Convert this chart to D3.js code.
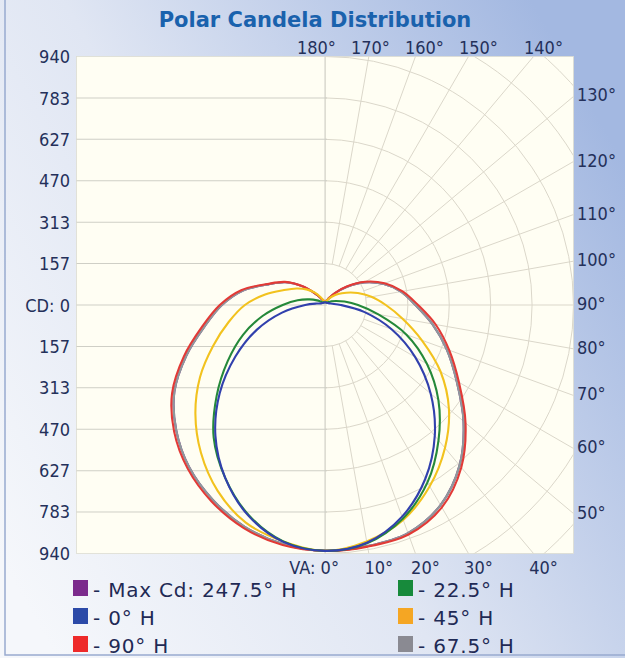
<!DOCTYPE html>
<html>
<head>
<meta charset="utf-8">
<script src="https://cdn.jsdelivr.net/npm/d3@7"></script>
<style>
  body { margin: 0; background: #fff; }
  text { font-family: "DejaVu Sans", Verdana, sans-serif; }
  .axis text { font-family: "DejaVu Sans Condensed", "DejaVu Sans", sans-serif; }
</style>
</head>
<body>
<div id="chart"></div>
<script>
const width = 625;
const height = 658;
const maxCd = 940;

// candela rings / left axis labels
const cdTicks = [157, 313, 470, 627, 783, 940];
// vertical angles (0 = nadir)
const vaAngles = [0, 10, 20, 30, 40, 50, 60, 70, 80, 90, 100, 110, 120, 130, 140, 150, 160, 170, 180];
const bottomAngles = [0, 10, 20, 30, 40];
const rightAngles = [50, 60, 70, 80, 90, 100, 110, 120, 130];
const topAngles = [140, 150, 160, 170, 180];

// candela per vertical angle, right half = plane, left half = opposite plane
const h0Right    = [930, 913, 852, 759, 646, 522, 394, 268, 150, 60, 28, 18, 14, 12, 10, 10, 10, 10, 10];
const h180Left   = [930, 910, 848, 755, 645, 520, 392, 275, 165, 75, 32, 18, 14, 12, 10, 10, 10, 10, 10];
const h225Right  = [930, 915, 860, 775, 668, 560, 445, 328, 205, 125, 75, 45, 28, 18, 14, 12, 11, 10, 10];
const h2025Left  = [930, 908, 845, 755, 655, 535, 425, 330, 240, 160, 105, 62, 35, 20, 14, 12, 11, 10, 10];
const h45Right   = [930, 908, 865, 792, 706, 612, 505, 390, 298, 230, 178, 132, 93, 65, 42, 26, 17, 13, 12];
const h225Left   = [930, 908, 876, 812, 730, 640, 546, 450, 370, 303, 230, 165, 125, 92, 62, 35, 20, 14, 12];
const h675Right  = [930, 926, 918, 874, 792, 684, 575, 490, 412, 342, 292, 234, 171, 106, 58, 29, 18, 14, 12];
const h2475Left  = [930, 918, 892, 850, 800, 735, 658, 558, 462, 390, 315, 228, 172, 108, 55, 28, 18, 14, 12];
const h90Right   = [930, 928, 924, 884, 802, 694, 585, 500, 425, 352, 298, 240, 176, 110, 60, 30, 18, 14, 12];
const h270Left   = [930, 922, 898, 858, 808, 745, 668, 568, 472, 398, 322, 232, 175, 110, 55, 28, 18, 14, 12];

const series = [
    { label: "- Max Cd: 247.5° H", color: "#7a2a8a", swatch: "#7b2a8c", right: h675Right, left: h2475Left, col: 0, row: 0 },
    { label: "- 67.5° H", color: "#8e9a9c", swatch: "#8a8a92", right: h675Right, left: h2475Left, col: 1, row: 2 },
    { label: "- 90° H",   color: "#e23a36", swatch: "#ee2a2a", right: h90Right,  left: h270Left,  col: 0, row: 2 },
    { label: "- 45° H",   color: "#f2c21e", swatch: "#f5a623", right: h45Right,  left: h225Left,  col: 1, row: 1 },
    { label: "- 22.5° H", color: "#25893a", swatch: "#178a3b", right: h225Right, left: h2025Left, col: 1, row: 0 },
    { label: "- 0° H",    color: "#3140ad", swatch: "#2c4aa8", right: h0Right,   left: h180Left,  col: 0, row: 1 }
];

const svg = d3.select("#chart")
    .append("svg")
        .attr("width", width)
        .attr("height", height)
        .attr("viewBox", [0, 0, width, height]);

const defs = svg.append("defs");
const bg = defs.append("linearGradient")
    .attr("id", "bg")
    .attr("x1", 0).attr("y1", 0.85).attr("x2", 1).attr("y2", 0.25);
bg.append("stop").attr("offset", 0).attr("stop-color", "#f5f7fb");
bg.append("stop").attr("offset", 0.45).attr("stop-color", "#e0e6f3");
bg.append("stop").attr("offset", 1).attr("stop-color", "#a3b8e1");

svg.append("rect")
    .attr("width", width).attr("height", height)
    .attr("fill", "url(#bg)");
svg.append("rect")
    .attr("x", 5).attr("y", -2)
    .attr("width", width + 5).attr("height", 657)
    .attr("fill", "none")
    .attr("stroke", "#98aacf")
    .attr("stroke-width", 1.5);

const x = d3.scaleLinear().domain([-maxCd, maxCd]).range([76.5, 573.5]);
const y = d3.scaleLinear().domain([-maxCd, maxCd]).range([553.5, 56.5]);
const r = d3.scaleLinear().domain([0, maxCd]).range([0, 248.5]);
const cx = x(0), cy = y(0);
const plotLeft = x(-maxCd), plotRight = x(maxCd), plotTop = y(maxCd), plotBottom = y(-maxCd);

// plot area
svg.append("rect")
    .attr("x", plotLeft).attr("y", plotTop)
    .attr("width", plotRight - plotLeft).attr("height", plotBottom - plotTop)
    .attr("fill", "#fffef3")
    .attr("stroke", "#dcdcd2")
    .attr("stroke-width", 0.8);

defs.append("clipPath").attr("id", "rightHalf")
    .append("rect")
        .attr("x", cx).attr("y", plotTop)
        .attr("width", plotRight - cx).attr("height", plotBottom - plotTop);

// polar grid on the right half
const polar = svg.append("g")
    .attr("clip-path", "url(#rightHalf)")
    .attr("fill", "none")
    .attr("stroke", "#dbd7ca")
    .attr("stroke-width", 1);

const ringStep = maxCd / 6;
polar.selectAll("circle")
    .data(d3.range(1, 9))
    .enter().append("circle")
        .attr("cx", cx).attr("cy", cy)
        .attr("r", d => r(d * ringStep));

polar.selectAll("line")
    .data(vaAngles)
    .enter().append("line")
        .attr("x1", d => cx + r(ringStep) * Math.sin(d * Math.PI / 180))
        .attr("y1", d => cy + r(ringStep) * Math.cos(d * Math.PI / 180))
        .attr("x2", d => cx + 420 * Math.sin(d * Math.PI / 180))
        .attr("y2", d => cy + 420 * Math.cos(d * Math.PI / 180));

// horizontal grid on the left half
const hGrid = svg.append("g").attr("stroke", "#cfcfc6").attr("stroke-width", 1);
const leftValues = [0].concat(cdTicks.slice(0, -1), cdTicks.slice(0, -1).map(d => -d));
hGrid.selectAll("line")
    .data(leftValues)
    .enter().append("line")
        .attr("x1", plotLeft).attr("x2", cx + 2)
        .attr("y1", d => y(d)).attr("y2", d => y(d));
hGrid.append("line")
    .attr("x1", cx).attr("x2", cx)
    .attr("y1", plotTop).attr("y2", plotBottom);

// curves
const line = d3.lineRadial()
    .angle(d => d.a)
    .radius(d => r(d.cd))
    .curve(d3.curveCatmullRom.alpha(0.5));

function curvePoints(s) {
    const pts = [];
    for (let i = vaAngles.length - 1; i >= 0; i--)
        pts.push({ a: Math.PI - vaAngles[i] * Math.PI / 180, cd: s.right[i] });
    for (let i = 1; i < vaAngles.length; i++)
        pts.push({ a: Math.PI + vaAngles[i] * Math.PI / 180, cd: s.left[i] });
    return pts;
}

svg.append("g")
        .attr("transform", `translate(${cx},${cy})`)
        .attr("fill", "none")
        .attr("stroke-width", 2.1)
    .selectAll("path")
    .data(series)
    .enter().append("path")
        .attr("stroke", d => d.color)
        .attr("d", d => line(curvePoints(d)));

// left candela labels
const labelColor = "#24305a";
const axisG = svg.append("g").attr("class", "axis").attr("fill", labelColor).attr("font-size", 18);
const leftTickData = cdTicks.map(d => ({ v: d, t: String(d) }))
    .concat(cdTicks.map(d => ({ v: -d, t: String(d) })))
    .concat([{ v: 0, t: "CD: 0" }]);
axisG.append("g").attr("text-anchor", "end")
    .selectAll("text")
    .data(leftTickData)
    .enter().append("text")
        .attr("x", 70)
        .attr("y", d => y(d.v) + 6.5)
        .text(d => d.t);

// where a ray at vertical angle a meets the plot edge
function hit(a) {
    const s = Math.sin(a * Math.PI / 180), c = Math.cos(a * Math.PI / 180);
    let t = Infinity;
    if (s > 1e-9) t = Math.min(t, (plotRight - cx) / s);
    if (c > 1e-9) t = Math.min(t, (plotBottom - cy) / c);
    if (c < -1e-9) t = Math.min(t, (plotTop - cy) / c);
    return [cx + t * s, cy + t * c];
}

function angleRow(angles, baseline, first) {
    const g = axisG.append("g").attr("text-anchor", "middle");
    const items = angles.map(a => {
        const el = g.append("text").attr("y", baseline).text((a === 0 ? "VA: " : "") + a + "°");
        return { a, el, w: el.node().getComputedTextLength(), want: hit(a)[0] + 10 };
    }).sort((p, q) => q.want - p.want);
    let prevLeft = Infinity;
    items.forEach(it => {
        let c = Math.min(it.want, prevLeft - 15 - it.w / 2);
        if (it.a === first) c = Math.min(c, cx + 14 - it.w / 2);
        it.el.attr("x", c);
        prevLeft = c - it.w / 2;
    });
}
angleRow(topAngles, 54, 180);
angleRow(bottomAngles, 574, 0);

axisG.append("g")
    .selectAll("text")
    .data(rightAngles)
    .enter().append("text")
        .attr("x", 577)
        .attr("y", d => hit(d)[1] + 5)
        .text(d => d + "°");

// title
svg.append("text")
    .attr("x", 315)
    .attr("y", 27)
    .attr("text-anchor", "middle")
    .attr("font-size", 21)
    .attr("font-weight", "bold")
    .attr("fill", "#1a62ad")
    .text("Polar Candela Distribution");

// legend
const colX = [73, 398];
const rowY = [597, 625, 653];
const legend = svg.append("g").selectAll("g")
    .data(series)
    .enter().append("g")
        .attr("transform", d => `translate(${colX[d.col]},${rowY[d.row]})`);
legend.append("rect")
    .attr("x", 0).attr("y", -17)
    .attr("width", 15).attr("height", 16)
    .attr("fill", d => d.swatch);
legend.append("text")
    .attr("x", 20)
    .attr("y", 0)
    .attr("font-size", 20)
    .attr("letter-spacing", 0.8)
    .attr("fill", "#1f2a55")
    .text(d => d.label);
</script>
</body>
</html>
